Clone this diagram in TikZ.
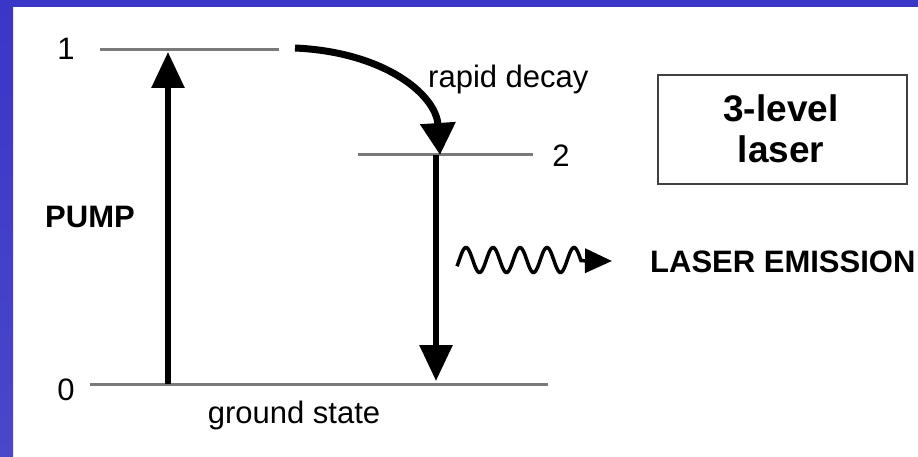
\documentclass[tikz,border=0pt]{standalone}
\usepackage{fontspec}
\setmainfont{Liberation Sans}
\usetikzlibrary{arrows.meta}
\definecolor{frameblue}{HTML}{3A36C8}
\definecolor{frameblue2}{HTML}{4A47CA}
\definecolor{levelgray}{HTML}{7A7A7A}
\definecolor{boxgray}{HTML}{404040}
\tikzset{
  x=1pt,y=-1pt,
  lbl/.style={inner sep=0pt,font=\fontsize{31}{36}\selectfont},
  blbl/.style={inner sep=0pt,font=\fontsize{31}{36}\selectfont\bfseries},
  level/.style={draw=levelgray,line width=3pt},
  bigarrow/.style={line width=6pt,-{Triangle[length=36pt,width=32pt]}},
  curvearrow/.style={line width=7pt,-{Triangle[length=32pt,width=34pt]}},
  wave/.style={line width=3.5pt,-{Triangle[length=27pt,width=24pt]}},
}
\begin{document}
\begin{tikzpicture}
\useasboundingbox (0,0) rectangle (918,457);
\fill[white] (0,0) rectangle (918,457);
\shade[top color=frameblue,bottom color=frameblue2] (0,0) rectangle (13,457);
\fill[frameblue] (0,0) rectangle (918,7);
% levels
\coordinate (l1a) at (100,50); \coordinate (l1b) at (279,50);
\coordinate (l2a) at (358,155); \coordinate (l2b) at (533,155);
\coordinate (l0a) at (90,384); \coordinate (l0b) at (548,384);
\draw[level] (l1a) -- (l1b);
\draw[level] (l2a) -- (l2b);
\draw[level] (l0a) -- (l0b);
% labels
\node[lbl,anchor=base] (n1) at (66,60) {1};
\node[lbl,anchor=base] (n2) at (561,167) {2};
\node[lbl,anchor=base] (n0) at (66,400) {0};
\node[blbl,anchor=base west] (pump) at (45,228) {PUMP};
\node[lbl,anchor=base west] (rapid) at (428,88) {rapid decay};
\node[lbl,anchor=base] (ground) at (294,423) {ground state};
\node[blbl,anchor=base west] (emis) at (650,272) {LASER EMISSION};
% box
\node[draw=boxgray,line width=2.5pt,minimum width=249pt,minimum height=109pt,inner sep=0pt] (box) at (782.5,129.5) {};
\node[inner sep=0pt,anchor=base,font=\fontsize{37}{41}\selectfont\bfseries] (t1) at (781,122) {3-level};
\node[inner sep=0pt,anchor=base,font=\fontsize{37}{41}\selectfont\bfseries] (t2) at (781,163) {laser};
% pump arrow
\coordinate (pb) at (168,384); \coordinate (pt) at (168,52);
\draw[bigarrow] (pb) -- (pt);
% decay arrow
\coordinate (db) at (436,155); \coordinate (dt) at (436,381);
\draw[bigarrow] (db) -- (dt);
% curved arrow
\coordinate (cs) at (295,48); \coordinate (ce) at (440,155);
\draw[curvearrow] (cs) .. controls (385,52) and (436,95) .. (ce);
% wave
\coordinate (wt) at (612,261);
\draw[wave] plot[domain=457:581,samples=120,smooth] (\x,{260-12.5*cos((\x-466)/27*360)}) -- (wt);
\end{tikzpicture}
\end{document}
